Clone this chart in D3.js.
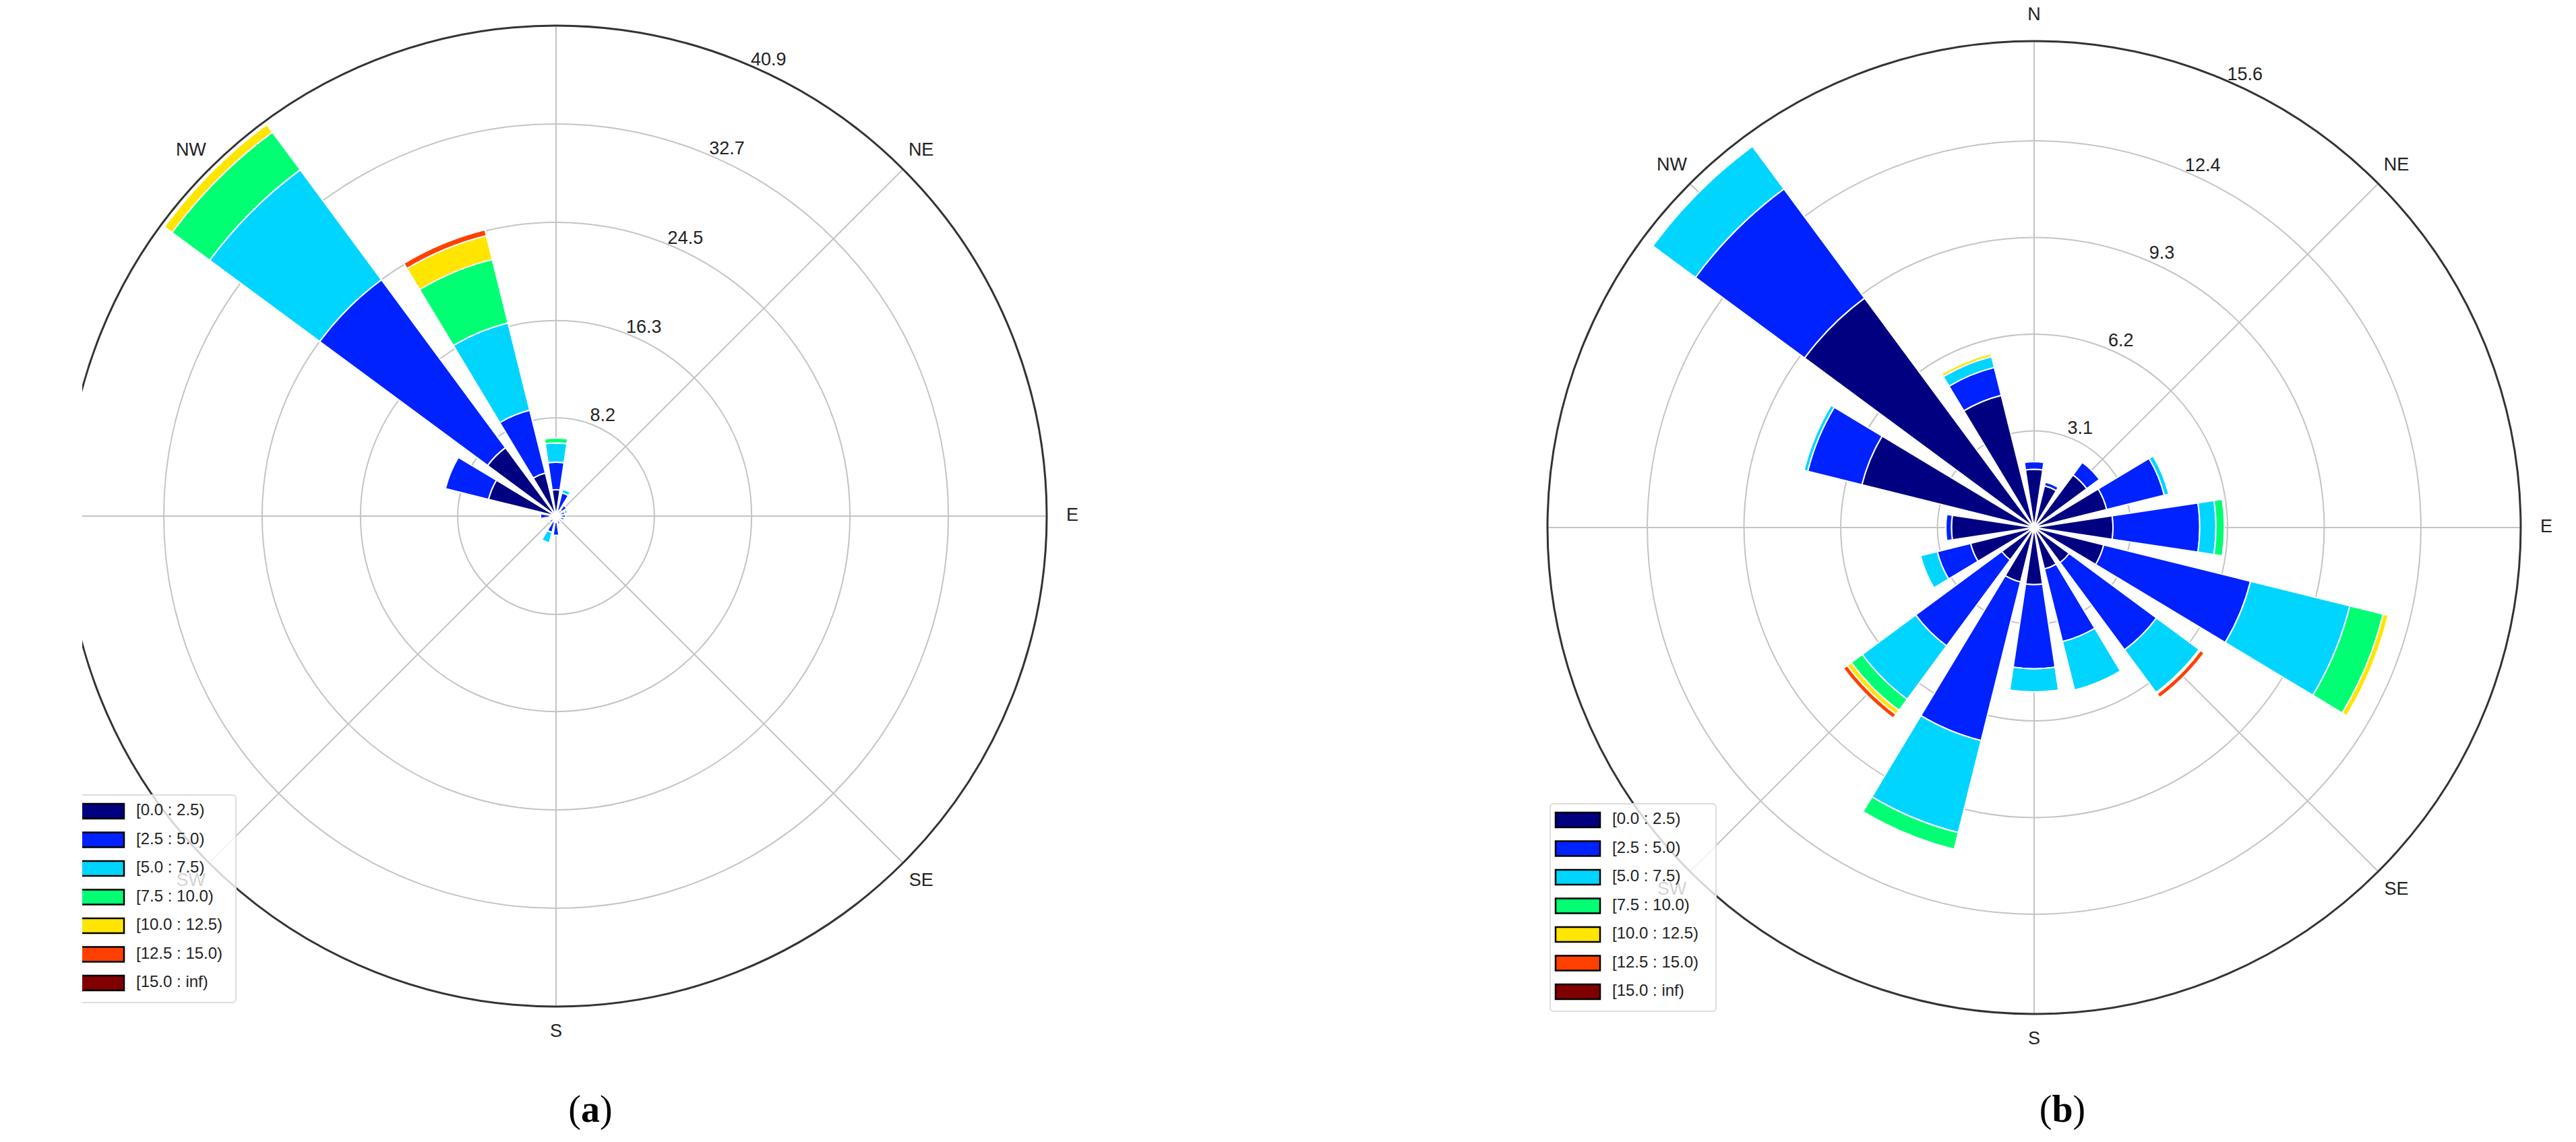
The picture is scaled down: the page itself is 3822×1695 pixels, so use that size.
<!DOCTYPE html>
<html>
<head>
<meta charset="utf-8">
<script src="https://cdn.jsdelivr.net/npm/d3@7"></script>
<style>
  body { margin: 0; background: #fff; }
  svg { display: block; }
</style>
</head>
<body>
<svg id="chart" width="3822" height="1695"></svg>
<script>
// wind directions, clockwise from north
var directions = ['N', 'NNE', 'NE', 'ENE', 'E', 'ESE', 'SE', 'SSE', 'S', 'SSW', 'SW', 'WSW', 'W', 'WNW', 'NW', 'NNW'];
var binLabels = ['[0.0 : 2.5)', '[2.5 : 5.0)', '[5.0 : 7.5)', '[7.5 : 10.0)', '[10.0 : 12.5)', '[12.5 : 15.0)', '[15.0 : inf)'];
var binColors = ['#000080', '#0022ff', '#00d5ff', '#00ff73', '#ffe500', '#ff4000', '#800000'];
var compassLabels = ['N', 'NE', 'E', 'SE', 'S', 'SW', 'W', 'NW'];

// panel (a): frequency (%) per speed bin, one array per bin, 16 sectors each
var aBin0 = [2.2, 0.5, 0.6, 0.3, 0.3, 0.3, 0.3, 0.3, 0.5, 0.5, 0.3, 0.3, 0.5, 5.8, 7.1, 3.7];
var aBin1 = [2.3, 1.5, 0.5, 0.5, 0.5, 0.4, 0.3, 0.4, 1.1, 0.9, 0.4, 0.2, 0.8, 3.7, 17.4, 5.4];
var aBin2 = [1.6, 0.3, 0, 0.2, 0, 0, 0, 0, 0, 0.9, 0, 0, 0, 0, 11.4, 7.5];
var aBin3 = [0.4, 0, 0, 0, 0, 0, 0, 0, 0, 0, 0, 0, 0, 0, 3.9, 5.45];
var aBin4 = [0, 0, 0, 0, 0, 0, 0, 0, 0, 0, 0, 0, 0, 0, 0.8, 2.05];
var aBin5 = [0, 0, 0, 0, 0, 0, 0, 0, 0, 0, 0, 0, 0, 0, 0.05, 0.5];
var aBin6 = [0, 0, 0, 0, 0, 0, 0, 0, 0, 0, 0, 0, 0, 0, 0, 0];
var aTicks = [8.2, 16.3, 24.5, 32.7, 40.9];

// panel (b)
var bBin0 = [1.87, 1.38, 2.1, 2.4, 2.53, 2.3, 1.4, 1.37, 1.83, 1.8, 1.29, 2.1, 2.65, 5.69, 9.15, 4.37];
var bBin1 = [0.24, 0.12, 0.5, 1.9, 2.78, 4.85, 3.48, 2.4, 2.7, 5.24, 3.43, 1.1, 0.18, 1.79, 4.35, 0.92];
var bBin2 = [0, 0, 0, 0.15, 0.52, 3.28, 1.7, 1.6, 0.74, 3.04, 2.13, 0.55, 0, 0.12, 1.7, 0.36];
var bBin3 = [0, 0, 0, 0, 0.27, 1.1, 0, 0, 0, 0.55, 0.44, 0, 0, 0, 0, 0];
var bBin4 = [0, 0, 0, 0, 0, 0.17, 0.05, 0, 0, 0, 0.16, 0, 0, 0, 0, 0.1];
var bBin5 = [0, 0, 0, 0, 0, 0, 0.15, 0, 0, 0, 0.15, 0, 0, 0, 0, 0];
var bBin6 = [0, 0, 0, 0, 0, 0, 0, 0, 0, 0, 0, 0, 0, 0, 0, 0];
var bTicks = [3.1, 6.2, 9.3, 12.4, 15.6];

var svg = d3.select('#chart');

function drawRose(opt) {
    var g = svg.append('g');
    var clipId = 'clip' + opt.tag;
    svg.append('clipPath').attr('id', clipId)
        .append('rect').attr('x', opt.clipX).attr('y', 0).attr('width', 3822).attr('height', 1695);
    g.attr('clip-path', 'url(#' + clipId + ')');
    var p = g.append('g').attr('transform', 'translate(' + opt.cx + ',' + opt.cy + ')');
    var rmax = opt.ticks[opt.ticks.length - 1];
    var r = d3.scaleLinear().domain([0, rmax]).range([0, opt.R]);
    var step = 2 * Math.PI / directions.length;
    var half = step * 0.38;

    // grid rings + spokes
    p.selectAll('circle.ring').data(opt.ticks.slice(0, -1)).enter().append('circle')
        .attr('r', function(d) { return r(d); })
        .attr('fill', 'none').attr('stroke', '#c4c4c4').attr('stroke-width', 2);
    p.selectAll('line.spoke').data(d3.range(8)).enter().append('line')
        .attr('x1', 0).attr('y1', 0)
        .attr('x2', function(i) { return opt.R * Math.sin(i * Math.PI / 4); })
        .attr('y2', function(i) { return -opt.R * Math.cos(i * Math.PI / 4); })
        .attr('stroke', '#c4c4c4').attr('stroke-width', 2);

    // stacked bars
    var arc = d3.arc();
    directions.forEach(function(dir, i) {
        var base = 0;
        opt.bins.forEach(function(vals, b) {
            var v = vals[i];
            if (v <= 0) return;
            p.append('path')
                .attr('d', arc({ innerRadius: r(base), outerRadius: r(base + v),
                                 startAngle: i * step - half, endAngle: i * step + half }))
                .attr('fill', binColors[b])
                .attr('stroke', '#fff').attr('stroke-width', 2);
            base += v;
        });
    });

    // outer frame
    p.append('circle').attr('r', opt.R).attr('fill', 'none')
        .attr('stroke', '#333').attr('stroke-width', 3);

    // radial tick labels
    var ta = 25 * Math.PI / 180;
    p.selectAll('text.tick').data(opt.ticks).enter().append('text')
        .attr('x', function(d) { return (r(d) + 18) * Math.sin(ta); })
        .attr('y', function(d) { return -(r(d) + 18) * Math.cos(ta); })
        .attr('text-anchor', 'middle').attr('dominant-baseline', 'middle')
        .attr('font-family', 'Liberation Sans, Arial, sans-serif').attr('font-size', 27)
        .attr('fill', '#222')
        .text(function(d) { return d; });

    // compass labels (SW sits under the legend and shows through faintly)
    p.selectAll('text.dir').data(compassLabels.filter(function(c) { return opt.skip.indexOf(c) < 0; }))
        .enter().append('text')
        .attr('x', function(c) { var k = compassLabels.indexOf(c); return (opt.R + 38) * Math.sin(k * Math.PI / 4); })
        .attr('y', function(c) { var k = compassLabels.indexOf(c); return -(opt.R + 38) * Math.cos(k * Math.PI / 4); })
        .attr('text-anchor', 'middle').attr('dominant-baseline', 'middle')
        .attr('font-family', 'Liberation Sans, Arial, sans-serif').attr('font-size', 27)
        .attr('fill', '#222')
        .text(function(c) { return c; });

    // legend
    var lg = g.append('g').attr('transform', 'translate(' + opt.legX + ',' + opt.legY + ')');
    lg.append('rect').attr('x', 0).attr('y', 0).attr('width', opt.legW).attr('height', 308)
        .attr('rx', 5).attr('fill', 'rgba(255,255,255,0.8)').attr('stroke', '#ddd').attr('stroke-width', 2);
    binLabels.forEach(function(lab, b) {
        var y = 24 + b * 42.5;
        lg.append('rect').attr('x', 8).attr('y', y - 11).attr('width', 66).attr('height', 22)
            .attr('fill', binColors[b]).attr('stroke', '#000').attr('stroke-width', 2.5);
        lg.append('text').attr('x', 92).attr('y', y).attr('dominant-baseline', 'middle')
            .attr('font-family', 'Liberation Sans, Arial, sans-serif').attr('font-size', 24)
            .attr('fill', '#222').text(lab);
    });

    // panel caption
    var cap = svg.append('text').attr('x', opt.capX).attr('y', 1665)
        .attr('text-anchor', 'middle').attr('font-family', 'Liberation Serif, Times New Roman, serif')
        .attr('font-size', 56).attr('fill', '#000');
    cap.append('tspan').text('(');
    cap.append('tspan').attr('font-weight', 'bold').text(opt.tag);
    cap.append('tspan').text(')');
}

drawRose({ tag: 'a', cx: 825, cy: 766, R: 728, ticks: aTicks, clipX: 122,
           bins: [aBin0, aBin1, aBin2, aBin3, aBin4, aBin5, aBin6],
           skip: ['N', 'W'], legX: 110, legY: 1180, legW: 240, capX: 876 });
drawRose({ tag: 'b', cx: 3018, cy: 783, R: 722, ticks: bTicks, clipX: 0,
           bins: [bBin0, bBin1, bBin2, bBin3, bBin4, bBin5, bBin6],
           skip: ['W'], legX: 2300, legY: 1193, legW: 246, capX: 3060 });
</script>
</body>
</html>
